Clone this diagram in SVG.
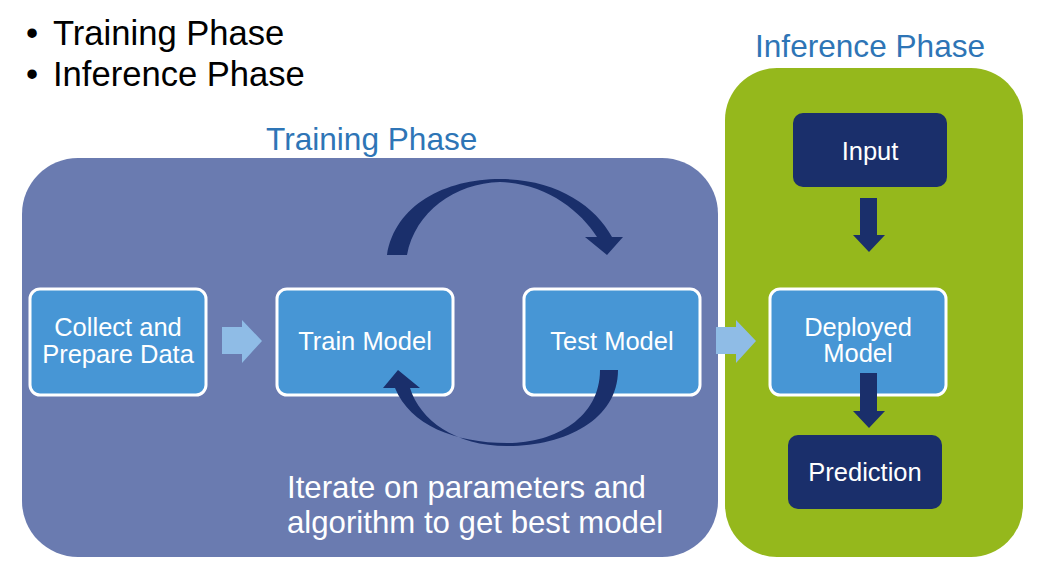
<svg xmlns="http://www.w3.org/2000/svg" width="1043" height="578" viewBox="0 0 1043 578">
<style>
text{font-family:"Liberation Sans",Arial,sans-serif}
.bul{font-size:34.6px;fill:#000}
.lbl{font-size:31.6px;fill:#2E75B6}
.box{fill:#4796D5;stroke:#fff;stroke-width:3}
.dark{fill:#1A2F6B}
.bt{font-size:25.5px;fill:#fff;text-anchor:middle}
.la{fill:#8FBCE6}
.da{fill:#1A2F6B}
</style>
<rect width="1043" height="578" fill="#fff"/>
<g id="bullets">
<text class="bul" x="26" y="45">•</text><text class="bul" x="53" y="45">Training Phase</text>
<text class="bul" x="26" y="86">•</text><text class="bul" x="53" y="86">Inference Phase</text>
</g>
<g id="training-panel">
<rect x="22" y="158" width="696" height="399" rx="56" fill="#6A7BB0"/>
<text class="lbl" x="266" y="150">Training Phase</text>
<text x="287" y="498" font-size="31.2" fill="#fff">Iterate on parameters and</text>
<text x="287" y="533" font-size="31.2" fill="#fff">algorithm to get best model</text>
</g>
<g id="inference-panel">
<rect x="725" y="68" width="298" height="489" rx="52" fill="#95B81C"/>
<text class="lbl" x="755" y="57">Inference Phase</text>
</g>
<g id="collect"><rect class="box" x="30" y="289" width="176" height="106" rx="10"/><text class="bt" x="118" y="336">Collect and</text><text class="bt" x="118" y="363">Prepare Data</text></g>
<g id="train"><rect class="box" x="277" y="289" width="176" height="106" rx="10"/><text class="bt" x="365" y="350">Train Model</text></g>
<g id="test"><rect class="box" x="524" y="289" width="176" height="106" rx="10"/><text class="bt" x="612" y="350">Test Model</text></g>
<g id="deployed"><rect class="box" x="770" y="289" width="176" height="106" rx="10"/><text class="bt" x="858" y="336">Deployed</text><text class="bt" x="858" y="362">Model</text></g>
<g id="input"><rect class="dark" x="793" y="113" width="154" height="74" rx="10"/><text class="bt" x="870" y="160">Input</text></g>
<g id="prediction"><rect class="dark" x="788" y="435" width="154" height="74" rx="10"/><text class="bt" x="865" y="481">Prediction</text></g>
<g id="connectors">
<path class="la" d="M222,327 H242 V320 L262,341 L242,363 V354 H222 Z"/>
<path class="la" d="M716,327 H736 V320 L756,341 L736,363 V354 H716 Z"/>
<path class="da" d="M860,198 H877 V235 H885 L869,252 L853,235 H860 Z"/>
<path class="da" d="M860,373 H877 V411 H885 L869,428 L853,411 H860 Z"/>
<path class="da" d="M387,255 C395,205 445,179 500,179 C555,179 595,205 612,237 L623,237 L607,255 L585,237 L597,237 C580,210 545,183 500,182 C455,183 415,212 407,255 Z"/>
<path class="da" d="M618,370 C618,420 565,446 507,446 C455,446 420,420 410,388 L420,388 L398,370 L383,388 L395,388 C410,425 455,443 507,443 C555,443 600,418 600,370 Z"/>
</g>
</svg>
